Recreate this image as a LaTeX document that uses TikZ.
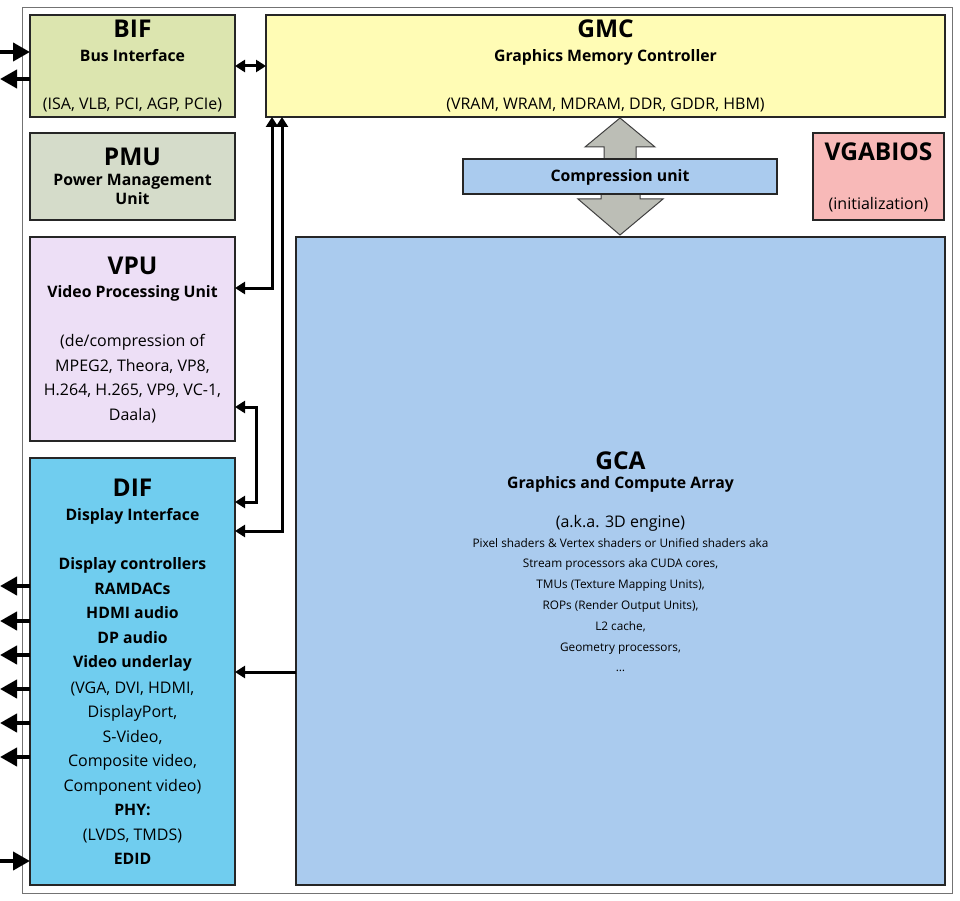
\documentclass[tikz,border=0pt]{standalone}
\usepackage{fontspec}
\setmainfont{Open Sans}
\usetikzlibrary{arrows.meta}

\begin{document}
\begin{tikzpicture}[x=1pt,y=-1pt,
  blk/.style={draw=black!85, line width=1.3pt, inner sep=0pt, outer sep=0pt, anchor=north west},
  ttl/.style={font=\fontsize{24.5}{28}\selectfont\bfseries, anchor=base},
  sub/.style={font=\fontsize{15.8}{18}\selectfont\bfseries, anchor=base},
  txt/.style={font=\fontsize{16}{18}\selectfont, anchor=base},
  tiny/.style={font=\fontsize{11.8}{13}\selectfont, anchor=base},
  conn/.style={line width=3pt},
  tipA/.tip={Triangle[length=10pt,width=12pt]},
  ext/.style={line width=4pt, -{Triangle[length=17pt,width=18pt]}},
  bigarr/.style={fill=colArr, draw=black!75, line width=1pt}]

% Colori dei blocchi
\definecolor{colBif}{HTML}{DCE5AF}
\definecolor{colGmc}{HTML}{FFFCB5}
\definecolor{colPmu}{HTML}{D5DCCA}
\definecolor{colVpu}{HTML}{EDDFF6}
\definecolor{colDif}{HTML}{70CDEF}
\definecolor{colBios}{HTML}{F8B9B8}
\definecolor{colGca}{HTML}{AACBEE}
\definecolor{colArr}{HTML}{BCBEB6}

\useasboundingbox (0,0) rectangle (960,901);

% Cornice esterna
\draw[black!55, line width=1pt] (22,8) rectangle (952,893);

% Blocchi
\node[blk, fill=colBif, minimum width=205pt, minimum height=102pt] (bif) at (30,15) {};
\node[blk, fill=colGmc, minimum width=679pt, minimum height=102pt] (gmc) at (266,15) {};
\node[blk, fill=colPmu, minimum width=205pt, minimum height=87pt] (pmu) at (30,133) {};
\node[blk, fill=colVpu, minimum width=205pt, minimum height=204pt] (vpu) at (30,237) {};
\node[blk, fill=colDif, minimum width=205pt, minimum height=427pt] (dif) at (30,458) {};
\node[blk, fill=colBios, minimum width=131pt, minimum height=87pt] (bios) at (813,133) {};
\node[blk, fill=colGca, minimum width=649pt, minimum height=648pt] (gca) at (296,237) {};

% Frecce grigie verso l'unita' di compressione
\draw[bigarr] (604,159) -- (604,147) -- (585,147) -- (620,118) -- (655,147) -- (636,147) -- (636,159);
\draw[bigarr] (601,194) -- (601,199) -- (578,199) -- (620,235) -- (663,199) -- (640,199) -- (640,194);
\node[blk, fill=colGca, minimum width=314pt, minimum height=35pt] (comp) at (463,159) {};
\node[sub] (compT) at (620,181.5) {Compression unit};

% BIF
\node[ttl] (bifT) at (132.5,38) {BIF};
\node[sub] (bifS) at (132.5,61.5) {Bus Interface};
\node[txt] (bifN) at (132.5,109.5) {(ISA, VLB, PCI, AGP, PCIe)};

% GMC
\node[ttl] (gmcT) at (605.5,38) {GMC};
\node[sub] (gmcS) at (605.5,61.5) {Graphics Memory Controller};
\node[txt] (gmcN) at (605.5,109.5) {(VRAM, WRAM, MDRAM, DDR, GDDR, HBM)};

% PMU
\node[ttl] (pmuT) at (132.5,166) {PMU};
\node[sub] (pmuS) at (132.5,185.5) {Power Management};
\node[sub] (pmuU) at (132.5,204.5) {Unit};

% VGABIOS
\node[ttl] (biosT) at (878.5,161) {VGABIOS};
\node[txt] (biosN) at (878.5,209.5) {(initialization)};

% VPU
\node[ttl] (vpuT) at (132.5,274) {VPU};
\node[sub] (vpuS) at (132.5,297.5) {Video Processing Unit};
\node[txt] (vpuN1) at (132.5,346.5) {(de/compression of};
\node[txt] (vpuN2) at (132.5,371) {MPEG2, Theora, VP8,};
\node[txt] (vpuN3) at (132.5,395.5) {H.264, H.265, VP9, VC-1,};
\node[txt] (vpuN4) at (132.5,420) {Daala)};

% DIF
\node[ttl] (difT) at (132.5,496) {DIF};
\node[sub] (difS) at (132.5,520.5) {Display Interface};
\node[sub] (dif1) at (132.5,569.5) {Display controllers};
\node[sub] (dif2) at (132.5,594) {RAMDACs};
\node[sub] (dif3) at (132.5,618.5) {HDMI audio};
\node[sub] (dif4) at (132.5,643) {DP audio};
\node[sub] (dif5) at (132.5,667.5) {Video underlay};
\node[txt] (dif6) at (132.5,693) {(VGA, DVI, HDMI,};
\node[txt] (dif7) at (132.5,717.5) {DisplayPort,};
\node[txt] (dif8) at (132.5,742) {S-Video,};
\node[txt] (dif9) at (132.5,766.5) {Composite video,};
\node[txt] (dif10) at (132.5,791) {Component video)};
\node[sub] (dif11) at (132.5,815.5) {PHY:};
\node[txt] (dif12) at (132.5,840) {(LVDS, TMDS)};
\node[sub] (dif13) at (132.5,864.5) {EDID};

% GCA
\node[ttl] (gcaT) at (620.5,469) {GCA};
\node[sub] (gcaS) at (620.5,488.5) {Graphics and Compute Array};
\node[txt] (gcaN) at (620.5,527.5) {(a.k.a. 3D engine)};
\node[tiny] (gcaL1) at (620.5,547) {Pixel shaders \& Vertex shaders or Unified shaders aka};
\node[tiny] (gcaL2) at (620.5,567.8) {Stream processors aka CUDA cores,};
\node[tiny] (gcaL3) at (620.5,588.6) {TMUs (Texture Mapping Units),};
\node[tiny] (gcaL4) at (620.5,609.4) {ROPs (Render Output Units),};
\node[tiny] (gcaL5) at (620.5,630.2) {L2 cache,};
\node[tiny] (gcaL6) at (620.5,651) {Geometry processors,};
\node[tiny] (gcaL7) at (620.5,671.8) {\dots};

% Collegamenti interni
\draw[conn, tipA-tipA] (bif.east) -- (gmc.west);
\draw[conn, tipA-tipA] ([xshift=6pt]gmc.south west) |- ([yshift=-51pt]vpu.north east);
\draw[conn, tipA-tipA] ([xshift=16pt]gmc.south west) |- ([yshift=-73pt]dif.north east);
\draw[conn, tipA-tipA] ([yshift=-170pt]vpu.north east) -- ++(21,0) |- ([yshift=-44pt]dif.north east);
\coordinate (gcaOut) at ([yshift=-435pt]gca.north west);
\draw[conn, -tipA] (gcaOut) -- (gcaOut -| dif.east);

% Collegamenti esterni
\coordinate (busIn) at (0,52);
\coordinate (busOut) at (0,79);
\draw[ext] (busIn) -- (busIn -| bif.west);
\draw[ext] (busOut -| bif.west) -- (busOut);
\foreach \y [count=\i] in {586,621,655,689,723,757} {
  \coordinate (difOut\i) at (0,\y);
  \draw[ext] (difOut\i -| dif.west) -- (difOut\i);
}
\coordinate (edidIn) at (0,861);
\draw[ext] (edidIn) -- (edidIn -| dif.west);

\end{tikzpicture}
\end{document}
